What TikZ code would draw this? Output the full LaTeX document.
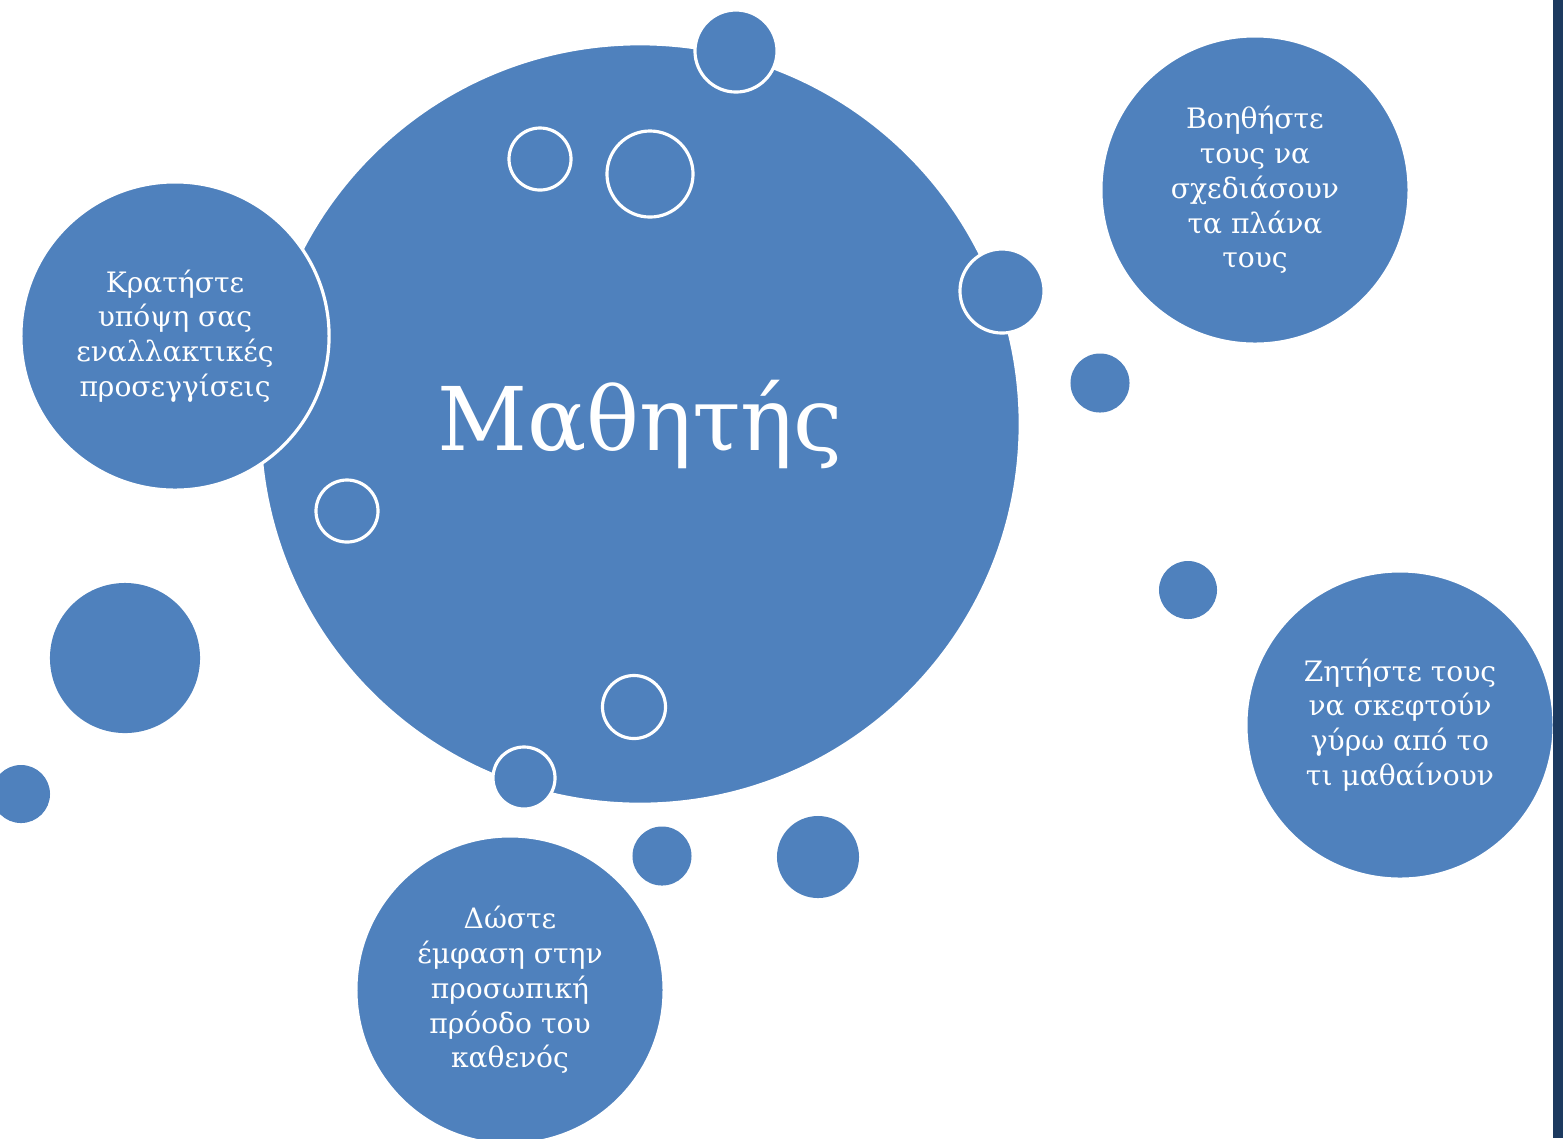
\documentclass[tikz,border=0pt]{standalone}
\usepackage{fontspec}
\setmainfont{DejaVu Serif}
\definecolor{bubbleblue}{HTML}{4F81BD}
\definecolor{edgenavy}{HTML}{1C3A5F}

\begin{document}
\begin{tikzpicture}[
    x=0.01cm,
    y=-0.01cm,
    bubble/.style={
        circle,
        fill=bubbleblue,
        inner sep=0pt,
        text=white,
        align=center
    },
    ring/.style={bubble, draw=white, line width=0.9pt},
    tip/.style={
        ring,
        minimum size=3.08cm,
        font=\fontsize{8}{9.9}\selectfont
    }
]

\clip (0,0) rectangle (1563,1138);

% central learner bubble
\node[ring, minimum size=7.6cm, font=\fontsize{25}{30}\selectfont] (learner) at (640,424) {Μαθητής};

% advice bubbles
\node[tip] (keep) at (175,336) {Κρατήστε\\υπόψη σας\\εναλλακτικές\\προσεγγίσεις};
\node[tip] (help) at (1255,190) {Βοηθήστε\\τους να\\σχεδιάσουν\\τα πλάνα\\τους};
\node[tip] (ask) at (1400,725) {Ζητήστε τους\\να σκεφτούν\\γύρω από το\\τι μαθαίνουν};
\node[tip] (stress) at (510,990) {Δώστε\\έμφαση στην\\προσωπική\\πρόοδο του\\καθενός};

% small rings on the learner
\node[ring, minimum size=0.82cm] (r1) at (736,51) {};
\node[ring, minimum size=0.62cm] (r2) at (540,159) {};
\node[ring, minimum size=0.86cm] (r3) at (650,174) {};
\node[ring, minimum size=0.84cm] (r4) at (1002,291) {};
\node[ring, minimum size=0.62cm] (r5) at (347,511) {};
\node[ring, minimum size=0.63cm] (r6) at (634,707) {};
\node[ring, minimum size=0.62cm] (r7) at (524,778) {};

% loose dots
\node[bubble, minimum size=0.59cm] (d1) at (1100,383) {};
\node[bubble, minimum size=1.5cm] (d2) at (125,658) {};
\node[bubble, minimum size=0.58cm] (d3) at (21,794) {};
\node[bubble, minimum size=0.59cm] (d4) at (662,856) {};
\node[bubble, minimum size=0.82cm] (d5) at (818,857) {};
\node[bubble, minimum size=0.58cm] (d6) at (1188,590) {};

% page edge
\fill[edgenavy] (1553,0) rectangle (1563,1138);

\end{tikzpicture}
\end{document}
